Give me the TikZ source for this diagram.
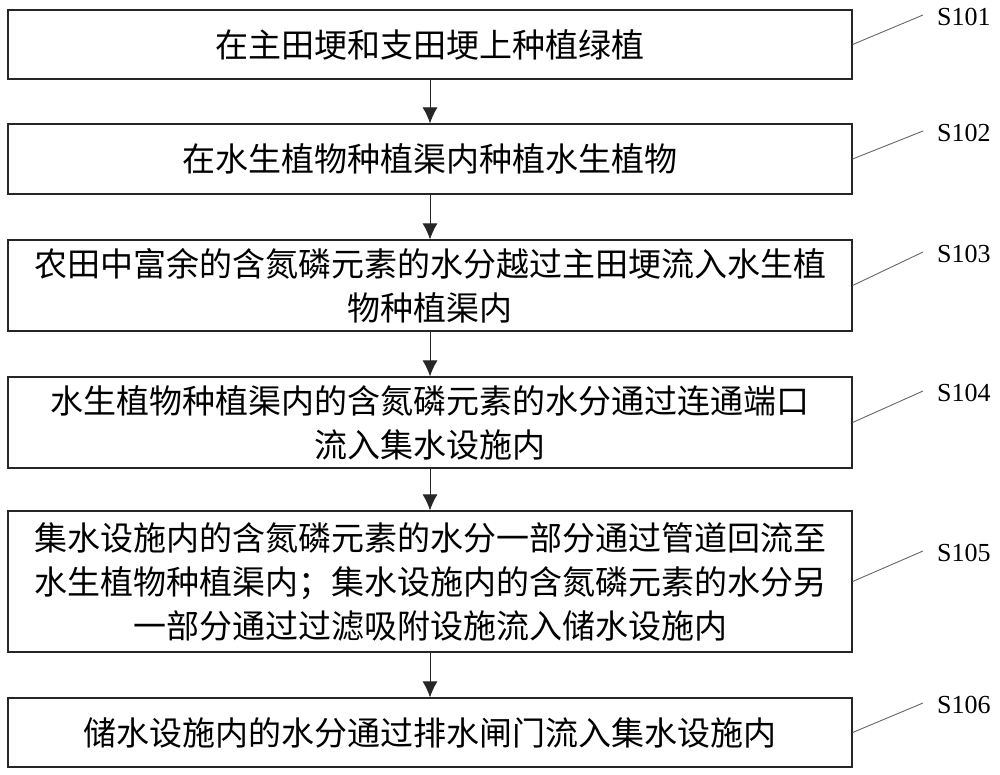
\documentclass[tikz,border=0pt]{standalone}
\usepackage{fontspec}
\setmainfont{Liberation Serif}
\newfontfamily\cjk{Noto Sans CJK SC}
\usetikzlibrary{arrows.meta}
\begin{document}
\begin{tikzpicture}[x=1pt,y=-1pt,
  stepbox/.style={draw=black!85, line width=1.2pt, minimum width=844pt, inner sep=0pt, align=center, font=\cjk\fontsize{33}{44}\selectfont},
  flow/.style={draw=black!85, line width=1pt, -{Latex[length=16pt,width=15pt]}},
  leader/.style={draw=black!60, line width=0.9pt},
  lbl/.style={font=\fontsize{26}{30}\selectfont, anchor=west, inner sep=0pt}]
\useasboundingbox (0,0) rectangle (1000,775);
\node[stepbox, minimum height=69pt] (b1) at (430,44.5) {在主田埂和支田埂上种植绿植};
\node[stepbox, minimum height=70pt] (b2) at (430,159) {在水生植物种植渠内种植水生植物};
\node[stepbox, minimum height=91pt] (b3) at (430,285.5) {农田中富余的含氮磷元素的水分越过主田埂流入水生植\\物种植渠内};
\node[stepbox, minimum height=91pt] (b4) at (430,422.5) {水生植物种植渠内的含氮磷元素的水分通过连通端口\\流入集水设施内};
\node[stepbox, minimum height=141pt] (b5) at (430,581.5) {集水设施内的含氮磷元素的水分一部分通过管道回流至\\水生植物种植渠内；集水设施内的含氮磷元素的水分另\\一部分通过过滤吸附设施流入储水设施内};
\node[stepbox, minimum height=69pt] (b6) at (430,732.5) {储水设施内的水分通过排水闸门流入集水设施内};

\draw[flow] (b1) -- (b2);
\draw[flow] (b2) -- (b3);
\draw[flow] (b3) -- (b4);
\draw[flow] (b4) -- (b5);
\draw[flow] (b5) -- (b6);

\node[lbl] (s1) at (937,17) {S101};
\node[lbl] (s2) at (937,133) {S102};
\node[lbl] (s3) at (937,254) {S103};
\node[lbl] (s4) at (937,393) {S104};
\node[lbl] (s5) at (937,553) {S105};
\node[lbl] (s6) at (937,705) {S106};

\draw[leader] (b1.east) -- ([xshift=-14pt,yshift=2pt]s1.west);
\draw[leader] (b2.east) -- ([xshift=-14pt,yshift=2pt]s2.west);
\draw[leader] (b3.east) -- ([xshift=-14pt,yshift=2pt]s3.west);
\draw[leader] (b4.east) -- ([xshift=-14pt,yshift=2pt]s4.west);
\draw[leader] (b5.east) -- ([xshift=-14pt,yshift=2pt]s5.west);
\draw[leader] (b6.east) -- ([xshift=-14pt,yshift=2pt]s6.west);
\end{tikzpicture}
\end{document}
